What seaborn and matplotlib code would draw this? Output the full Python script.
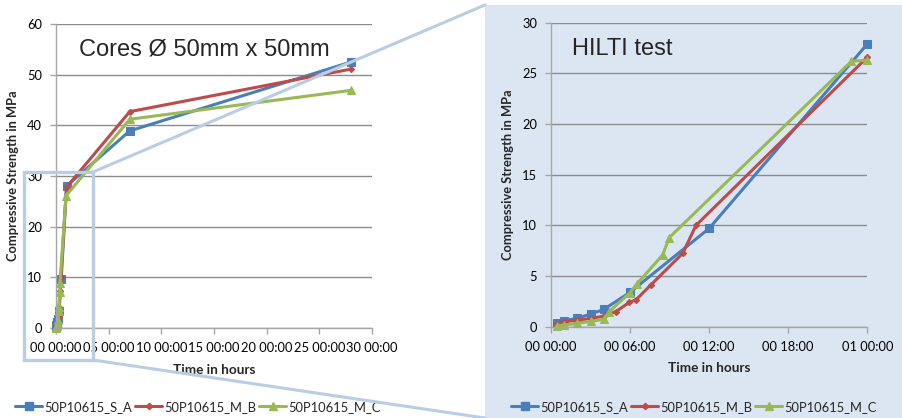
import numpy as np
import pandas as pd
import matplotlib
matplotlib.use("Agg")
import matplotlib.pyplot as plt
import seaborn as sns
from matplotlib.lines import Line2D
from matplotlib.patches import Rectangle

# ---------------- data ----------------
series_names = ["50P10615_S_A", "50P10615_M_B", "50P10615_M_C"]

# HILTI test (hours, MPa)
hilti_hours_A = [0.43, 1.0, 2.0, 3.0, 4.0, 6.0, 12.0, 24.0]
hilti_val_A = [0.4, 0.6, 0.83, 1.25, 1.7, 3.4, 9.7, 27.9]
hilti_hours_B = [0.4, 1.0, 2.0, 3.0, 4.0, 4.93, 5.95, 6.45, 7.56, 10.0, 11.0, 24.0]
hilti_val_B = [0.27, 0.47, 0.66, 0.8, 1.05, 1.5, 2.4, 2.65, 4.1, 7.25, 10.0, 26.6]
hilti_hours_C = [0.43, 1.0, 2.0, 3.0, 4.0, 4.43, 6.0, 6.5, 8.47, 8.98, 22.8, 24.0]
hilti_val_C = [0.07, 0.17, 0.33, 0.53, 0.73, 1.5, 3.36, 4.2, 7.08, 8.8, 26.2, 26.3]

# Cores (days, MPa)
cores_days_A = [0.018, 0.042, 0.083, 0.125, 0.167, 0.25, 0.5, 1.0, 7.0, 28.0]
cores_val_A = [0.4, 0.6, 0.83, 1.25, 1.7, 3.4, 9.7, 28.0, 38.9, 52.5]
cores_days_B = [0.017, 0.042, 0.083, 0.125, 0.167, 0.205, 0.248, 0.269, 0.315, 0.417, 0.458, 1.0, 7.0, 28.0]
cores_val_B = [0.27, 0.47, 0.66, 0.8, 1.05, 1.5, 2.4, 2.65, 4.1, 7.25, 10.0, 27.8, 42.7, 51.1]
cores_days_C = [0.018, 0.042, 0.083, 0.125, 0.167, 0.185, 0.25, 0.271, 0.353, 0.374, 0.95, 7.0, 28.0]
cores_val_C = [0.07, 0.17, 0.33, 0.53, 0.73, 1.5, 3.36, 4.2, 7.08, 8.8, 26.1, 41.2, 46.9]

left_xticks = [0, 5, 10, 15, 20, 25, 30]
left_xticklabels = ["00 00:00", "05 00:00", "10 00:00", "15 00:00", "20 00:00", "25 00:00", "30 00:00"]
right_xticks = [0, 6, 12, 18, 24]
right_xticklabels = ["00 00:00", "00 06:00", "00 12:00", "00 18:00", "01 00:00"]

# ---------------- style ----------------
sns.set_theme(style="white")
plt.rcParams["font.family"] = ["Lato", "DejaVu Sans"]

colors = {"50P10615_S_A": "#4a7ebb", "50P10615_M_B": "#be4b48", "50P10615_M_C": "#98b954"}
markers = {"50P10615_S_A": "s", "50P10615_M_B": "D", "50P10615_M_C": "^"}
msizes = {"50P10615_S_A": 5.5, "50P10615_M_B": 3.2, "50P10615_M_C": 6}

W, H = 903, 418
fig = plt.figure(figsize=(W / 100, H / 100), dpi=100)

def fx(px):
    return px / W

def fy(py):
    return 1 - py / H

# right panel background
fig.patches.append(Rectangle((fx(485), 0), 1 - fx(485), fy(5), transform=fig.transFigure,
                             facecolor="#dce6f2", edgecolor="none", zorder=-5))

axL = fig.add_axes([fx(56), fy(328), fx(372) - fx(56), fy(24) - fy(328)])
axR = fig.add_axes([fx(551), fy(326.7), fx(867.3) - fx(551), fy(22.7) - fy(326.7)])
axR.set_facecolor("none")
axL.set_facecolor("none")

cores = pd.concat([
    pd.DataFrame({"t": cores_days_A, "v": cores_val_A, "s": series_names[0]}),
    pd.DataFrame({"t": cores_days_B, "v": cores_val_B, "s": series_names[1]}),
    pd.DataFrame({"t": cores_days_C, "v": cores_val_C, "s": series_names[2]}),
])
hilti = pd.concat([
    pd.DataFrame({"t": hilti_hours_A, "v": hilti_val_A, "s": series_names[0]}),
    pd.DataFrame({"t": hilti_hours_B, "v": hilti_val_B, "s": series_names[1]}),
    pd.DataFrame({"t": hilti_hours_C, "v": hilti_val_C, "s": series_names[2]}),
])

for ax, df in [(axL, cores), (axR, hilti)]:
    for name in series_names:
        sub = df[df["s"] == name]
        sns.lineplot(data=sub, x="t", y="v", ax=ax, color=colors[name], marker=markers[name],
                     markersize=msizes[name], markeredgecolor=colors[name], linewidth=2.2,
                     sort=False, estimator=None, label=name, legend=False)

grid_c = "#8c8c8c"
spine_c = "#a6a6a6"
for ax in (axL, axR):
    ax.yaxis.grid(True, color=grid_c, linewidth=1.0)
    ax.xaxis.grid(False)
    ax.set_axisbelow(True)
    for side in ("top", "right"):
        ax.spines[side].set_visible(False)
    for side in ("left", "bottom"):
        ax.spines[side].set_color(spine_c)
        ax.spines[side].set_linewidth(1.0)
    ax.tick_params(axis="both", which="major", direction="out", length=4, width=1.0,
                   color=spine_c, labelsize=9.3, labelcolor="#000000",
                   bottom=True, left=True)
    ax.tick_params(axis="y", pad=6)
    ax.tick_params(axis="x", pad=6)
    ax.set_xlabel("Time in hours", fontsize=9.8, fontweight="bold", labelpad=7)
    ax.set_ylabel("Compressive Strength in MPa", fontsize=9.3, fontweight="bold", labelpad=6)

axL.set_xlim(0, 30)
axL.set_ylim(0, 60)
axL.set_yticks([0, 10, 20, 30, 40, 50, 60])
axL.set_xticks(left_xticks)
axL.set_xticklabels(left_xticklabels)

axR.set_xlim(0, 24)
axR.set_ylim(0, 30)
axR.set_yticks([0, 5, 10, 15, 20, 25, 30])
axR.set_xticks(right_xticks)
axR.set_xticklabels(right_xticklabels)

for ax in (axL, axR):
    for lab in ax.get_xticklabels():
        lab.set_clip_on(False)
    for ln in ax.get_lines():
        ln.set_clip_on(False)

axL.text(fx(79), fy(49), "Cores Ø 50mm x 50mm", transform=fig.transFigure, fontsize=17,
         ha="left", va="center", family=["Liberation Sans", "DejaVu Sans"])
axR.text(fx(572), fy(49), "HILTI test", transform=fig.transFigure, fontsize=17,
         ha="left", va="center", family=["Liberation Sans", "DejaVu Sans"])

# legends
handles = [Line2D([0], [0], color=colors[n], marker=markers[n], markersize=msizes[n],
                  markeredgecolor=colors[n], linewidth=2.2) for n in series_names]
for x0 in (15, 511):
    fig.legend(handles, series_names, loc="center left", bbox_to_anchor=(fx(x0), fy(407)),
               ncol=3, frameon=False, fontsize=9.3, handlelength=2.1, handletextpad=0.15,
               columnspacing=0.25, borderpad=0, borderaxespad=0, markerscale=1.0)

# zoom overlay (decoration)
zc = "#b9cde5"
fig.add_artist(Rectangle((fx(24), fy(360)), fx(93) - fx(24), fy(172) - fy(360),
                         transform=fig.transFigure, fill=False, edgecolor=zc, linewidth=2.4, zorder=10))
fig.add_artist(Line2D([fx(93), fx(485)], [fy(172), fy(5)], transform=fig.transFigure,
                      color=zc, linewidth=2.2, zorder=10))
fig.add_artist(Line2D([fx(93), fx(485)], [fy(360), fy(418)], transform=fig.transFigure,
                      color=zc, linewidth=2.2, zorder=10))

fig.savefig("out.png", dpi=100)
